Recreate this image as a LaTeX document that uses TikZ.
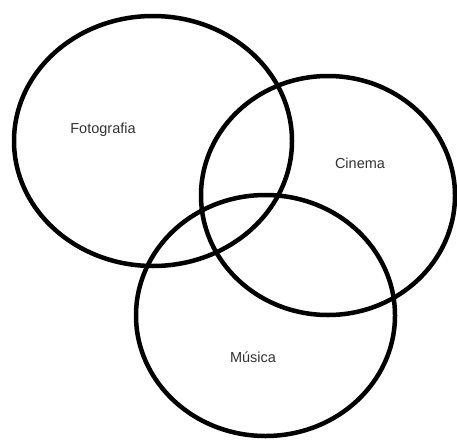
\documentclass[tikz,border=0pt]{standalone}
\usepackage{fontspec}
\setmainfont{Liberation Sans}
\usetikzlibrary{positioning}

\tikzset{
  setline/.style={draw=black,line width=4.5pt},
  setlabel/.style={font=\fontsize{14.5}{16}\selectfont,text=black!80,inner sep=0pt}
}

\begin{document}
\begin{tikzpicture}[x=1pt,y=-1pt]
\useasboundingbox (0,0) rectangle (457,439);
% the three sets
\draw[setline] (153,141) ellipse [x radius=139,y radius=125];
\draw[setline] (328,195.5) ellipse [x radius=127,y radius=119.5];
\draw[setline] (265.5,315.5) ellipse [x radius=129.5,y radius=120.5];
% labels
\node[setlabel] (foto) at (103,130) {Fotografia};
\node[setlabel] (cine) at (360,163) {Cinema};
\node[setlabel] (musica) at (253,357) {Música};
\end{tikzpicture}
\end{document}
